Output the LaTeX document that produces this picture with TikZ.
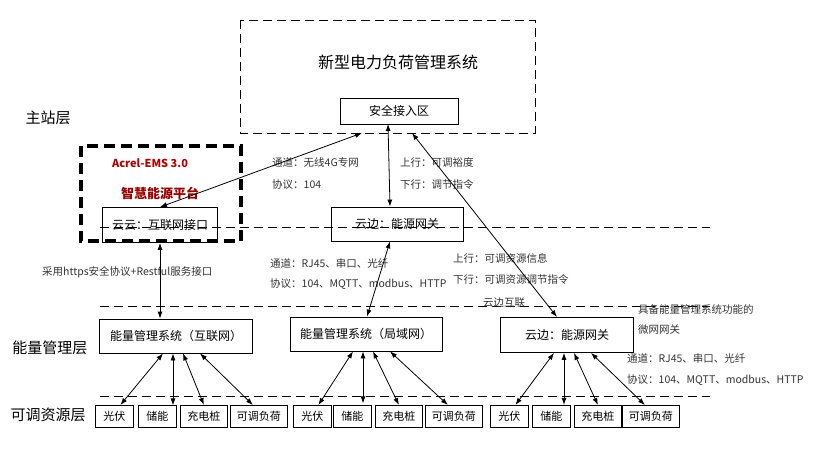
\documentclass[tikz,border=0pt]{standalone}
\usepackage{fontspec}
\setmainfont{Noto Sans CJK SC}
\usetikzlibrary{arrows.meta}
\tikzset{
  box/.style={draw, thick, inner sep=0pt, font=\fontsize{12}{14}\selectfont},
  res/.style={draw, thick, inner sep=0pt, minimum height=22, font=\fontsize{11}{13}\selectfont},
  lbl/.style={anchor=west, inner sep=0pt, font=\fontsize{10.5}{13}\selectfont, text=black!80},
  lay/.style={inner sep=0pt, font=\fontsize{15}{17}\selectfont},
  link/.style={thick, {Latex[length=7pt,width=5pt]}-{Latex[length=7pt,width=5pt]}},
  sep/.style={thick, dash pattern=on 9pt off 5pt}
}
\begin{document}
\begin{tikzpicture}[x=1pt, y=-1pt]
    \useasboundingbox (0,0) rectangle (814,452);
    % master station
    \draw [sep] (240,20) rectangle (535,133);
    \node [lay, font=\fontsize{16}{18}\selectfont] (title) at (398,62) {新型电力负荷管理系统};
    \node [box, minimum width=118, minimum height=26] (access) at (399,111) {安全接入区};
    \node [lay] (lmaster) at (48,118) {主站层};
    % platform
    \draw [line width=3.5pt, dash pattern=on 11pt off 6pt] (81,146) rectangle (241,241);
    \node [inner sep=0pt, text=red!70!black, font=\bfseries\fontsize{11}{13}\selectfont] (acrel) at (150,163) {Acrel-EMS 3.0};
    \node [inner sep=0pt, text=red!60!black, font=\bfseries\fontsize{13}{15}\selectfont] (smart) at (160,193) {智慧能源平台};
    \node [box, minimum width=115, minimum height=35] (cloud) at (160,225) {云云：互联网接口};
    \node [box, minimum width=132, minimum height=34] (gw1) at (397,224) {云边：能源网关};
    \draw [sep] (100,227) -- (710,227);
    \node [lbl] (ch1) at (272,162) {通道：无线4G专网};
    \node [lbl] (pr1) at (272,185) {协议：104};
    \node [lbl] (up1) at (400,162) {上行：可调裕度};
    \node [lbl] (dn1) at (400,185) {下行：调节指令};
    \node [lbl] (https) at (42,272) {采用https安全协议+Restful服务接口};
    \node [lbl] (ch2) at (270,263) {通道：RJ45、串口、光纤};
    \node [lbl] (pr2) at (270,284) {协议：104、MQTT、modbus、HTTP};
    \node [lbl] (up2) at (453,258) {上行：可调资源信息};
    \node [lbl] (dn2) at (453,280) {下行：可调资源调节指令};
    \draw [sep] (100,306) -- (710,306);
    % energy management layer
    \node [lay] (lems) at (50,348) {能量管理层};
    \node [box, minimum width=153, minimum height=34] (ems1) at (176,336) {能量管理系统（互联网）};
    \node [box, minimum width=152, minimum height=34] (ems2) at (366,334) {能量管理系统（局域网）};
    \node [box, minimum width=133, minimum height=35] (gw2) at (567,335) {云边：能源网关};
    \node [lbl] (edge) at (483,303) {云边互联};
    \node [lbl] (mg1) at (638,309) {具备能量管理系统功能的};
    \node [lbl] (mg2) at (638,330) {微网网关};
    \node [lbl] (ch3) at (627,358) {通道：RJ45、串口、光纤};
    \node [lbl] (pr3) at (627,380) {协议：104、MQTT、modbus、HTTP};
    \draw [link] (cloud.north) -- (362,133);
    \draw [link] (388,124) -- (gw1.north -| 390,0);
    \draw [link] (412,133) -- (557,317);
    \draw [link] (cloud.south) -- (ems1.north -| cloud.south);
    \draw [link] (gw1.south -| 390,0) -- (ems2.north -| 367,0);
    \draw [sep] (100,396) -- (710,396);
    % resources
    \node [lay] (lres) at (48,415) {可调资源层};
    \foreach \g/\sys/\a/\b/\c/\d in {a/ems1/95/138/180/230, b/ems2/293/333/375/425, c/gw2/490/532/574/622} {
      \node [res, minimum width=38, anchor=north west] (\g pv) at (\a,405) {光伏};
      \node [res, minimum width=38, anchor=north west] (\g st) at (\b,405) {储能};
      \node [res, minimum width=47, anchor=north west] (\g ch) at (\c,405) {充电桩};
      \node [res, minimum width=57, anchor=north west] (\g ld) at (\d,405) {可调负荷};
      \draw [link] ([xshift=-13]\sys.south) -- ([xshift=6]\g pv.north);
      \draw [link] ([xshift=-3]\sys.south) -- ++(0,52);
      \draw [link] ([xshift=7]\sys.south) -- (\g ch.north);
      \draw [link] ([xshift=24]\sys.south) -- ([xshift=-6]\g ld.north);
    }
\end{tikzpicture}
\end{document}
